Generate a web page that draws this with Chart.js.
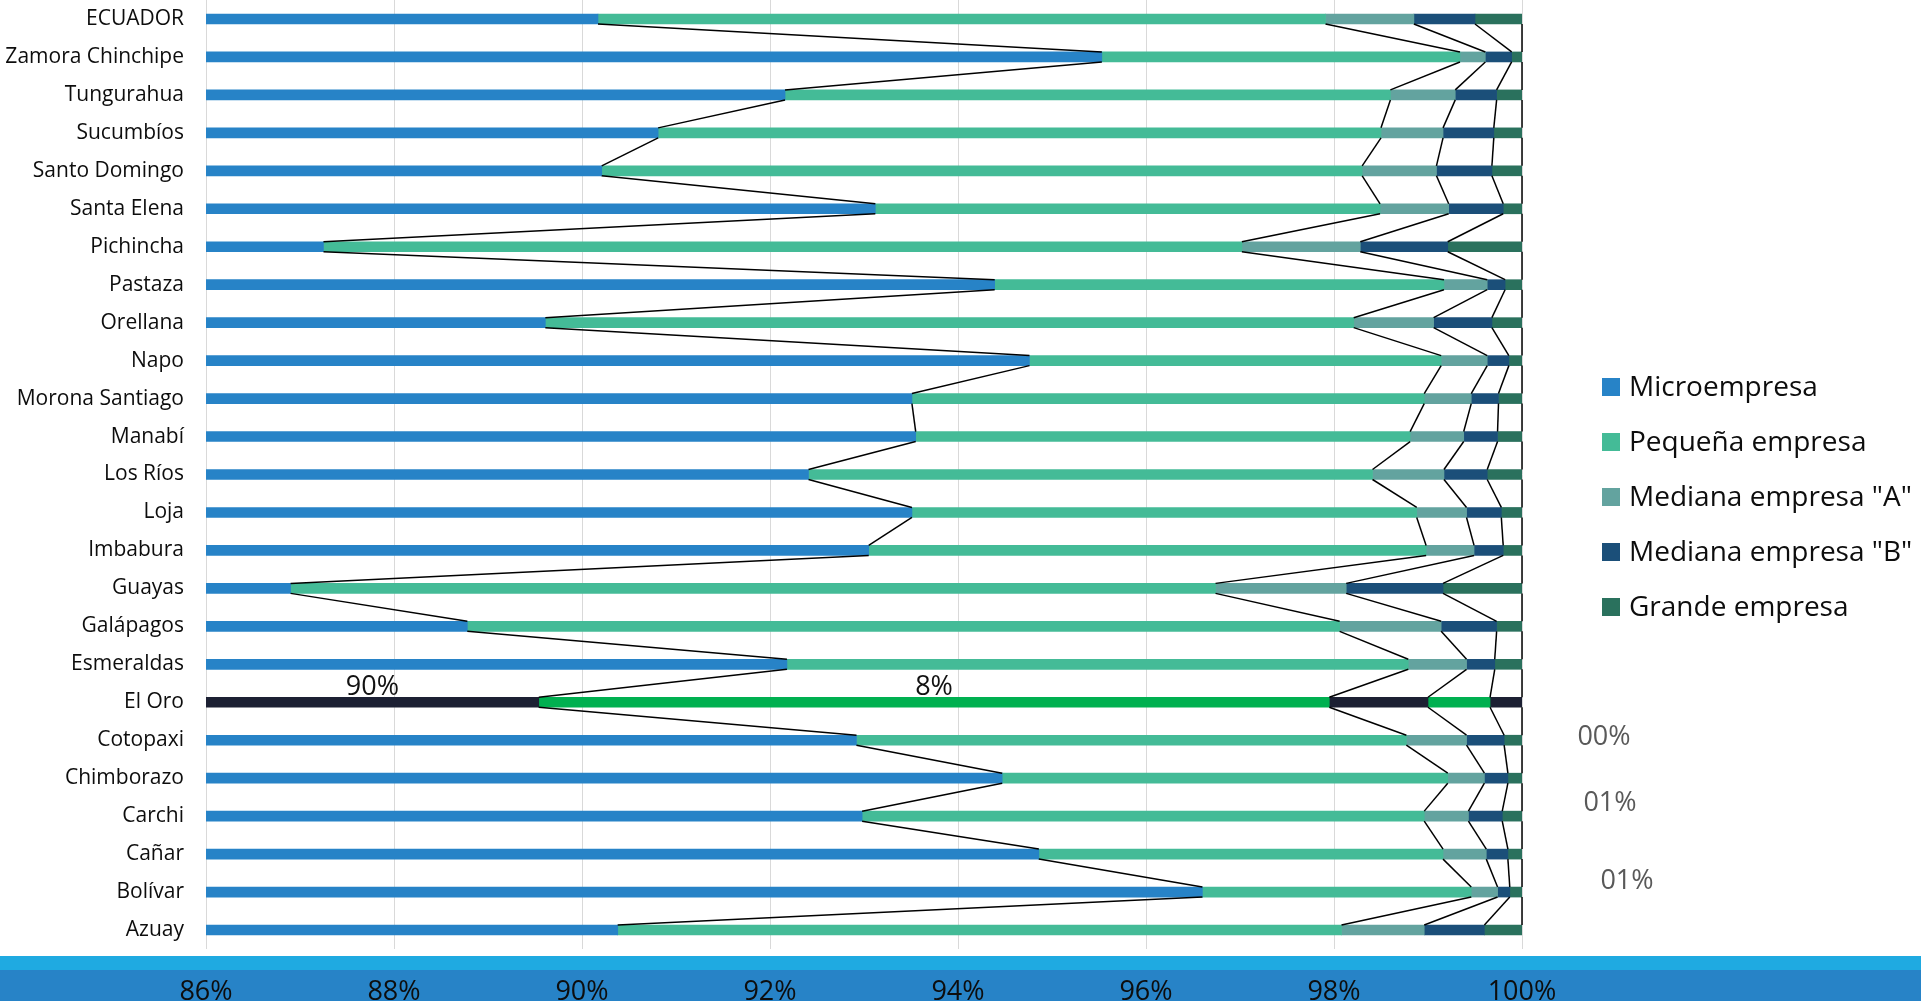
<!DOCTYPE html>
<html>
<head>
<meta charset="utf-8">
<script src="https://cdn.jsdelivr.net/npm/chart.js@4"></script>
<style>
  html, body { margin: 0; padding: 0; background: #fff; overflow: hidden; }
  #wrap { position: relative; width: 1921px; height: 1001px; }
</style>
</head>
<body>
<div id="wrap"><canvas id="c"></canvas></div>
<script>
// Provinces, top to bottom
const categories = ['ECUADOR', 'Zamora Chinchipe', 'Tungurahua', 'Sucumbíos', 'Santo Domingo', 'Santa Elena',
  'Pichincha', 'Pastaza', 'Orellana', 'Napo', 'Morona Santiago', 'Manabí', 'Los Ríos', 'Loja', 'Imbabura',
  'Guayas', 'Galápagos', 'Esmeraldas', 'El Oro', 'Cotopaxi', 'Chimborazo', 'Carchi', 'Cañar', 'Bolívar', 'Azuay'];

// Share of firms by size (%)
const microempresa = [90.17, 95.53, 92.16, 90.81, 90.21, 93.12, 87.25, 94.39, 89.61, 94.76, 93.51, 93.55, 92.41,
  93.51, 93.05, 86.90, 88.78, 92.18, 89.54, 92.92, 94.47, 92.98, 94.86, 96.60, 90.38];
const pequenaEmpresa = [7.74, 3.81, 6.44, 7.69, 8.09, 5.37, 9.77, 4.78, 8.60, 4.38, 5.45, 5.26, 6.00,
  5.37, 5.93, 9.84, 9.28, 6.61, 8.41, 5.85, 4.74, 5.98, 4.30, 2.86, 7.70];
const medianaA = [0.94, 0.27, 0.69, 0.66, 0.79, 0.73, 1.26, 0.46, 0.85, 0.49, 0.50, 0.57, 0.76,
  0.53, 0.51, 1.39, 1.08, 0.62, 1.05, 0.64, 0.39, 0.47, 0.46, 0.28, 0.88];
const medianaB = [0.65, 0.28, 0.44, 0.54, 0.59, 0.58, 0.93, 0.19, 0.62, 0.23, 0.29, 0.36, 0.46,
  0.37, 0.31, 1.03, 0.59, 0.30, 0.66, 0.40, 0.25, 0.36, 0.23, 0.13, 0.64];
const grandeEmpresa = [0.50, 0.11, 0.27, 0.30, 0.32, 0.20, 0.79, 0.18, 0.32, 0.14, 0.25, 0.26, 0.37,
  0.22, 0.20, 0.84, 0.27, 0.29, 0.34, 0.19, 0.15, 0.21, 0.15, 0.13, 0.40];

const seriesNames = ['Microempresa', 'Pequeña empresa', 'Mediana empresa "A"', 'Mediana empresa "B"', 'Grande empresa'];
const seriesValues = [microempresa, pequenaEmpresa, medianaA, medianaB, grandeEmpresa];

const axisMin = 86, axisMax = 100, axisStep = 2;
const highlighted = 'El Oro';

const baseColors = ['#2783c7', '#44bb97', '#63a39f', '#1b4f79', '#2a715d'];
const highlightColors = ['#1c2033', '#00b050', '#1c2033', '#00b050', '#1c2033'];
const hlIndex = categories.indexOf(highlighted);

const FONT = '"Open Sans", "Liberation Sans", sans-serif';

// Blue band behind the percentage axis
const axisBand = {
  id: 'axisBand',
  beforeDraw(chart) {
    const { ctx, chartArea, width, height } = chart;
    ctx.save();
    ctx.fillStyle = '#1faae1';
    ctx.fillRect(0, chartArea.bottom + 7, width, 14);
    ctx.fillStyle = '#2783c7';
    ctx.fillRect(0, chartArea.bottom + 21, width, height - chartArea.bottom - 21);
    ctx.restore();
  }
};

// Series lines joining segment ends of neighbouring bars
const seriesLines = {
  id: 'seriesLines',
  afterDatasetsDraw(chart) {
    const { ctx, chartArea } = chart;
    ctx.save();
    ctx.beginPath();
    ctx.rect(chartArea.left, chartArea.top, chartArea.right - chartArea.left + 2, chartArea.bottom - chartArea.top);
    ctx.clip();
    ctx.strokeStyle = '#000';
    ctx.lineWidth = 1.5;
    chart.data.datasets.forEach((ds, d) => {
      const bars = chart.getDatasetMeta(d).data;
      for (let i = 0; i < bars.length - 1; i++) {
        const a = bars[i], b = bars[i + 1];
        ctx.beginPath();
        ctx.moveTo(a.x, a.y + a.height / 2);
        ctx.lineTo(b.x, b.y - b.height / 2);
        ctx.stroke();
      }
    });
    ctx.restore();
  }
};

// Value labels for the highlighted province
const valueLabels = {
  id: 'valueLabels',
  afterDraw(chart) {
    const { ctx, chartArea } = chart;
    if (hlIndex < 0) return;
    ctx.save();
    ctx.font = '27px ' + FONT;
    ctx.textAlign = 'center';
    ctx.textBaseline = 'middle';
    // the two main segments: label above the bar
    [0, 1].forEach(d => {
      const bar = chart.getDatasetMeta(d).data[hlIndex];
      const v = chart.data.datasets[d].data[hlIndex];
      const x0 = Math.max(Math.min(bar.base, bar.x), chartArea.left);
      const x1 = Math.max(bar.base, bar.x);
      ctx.fillStyle = '#111';
      ctx.fillText(Math.round(v) + '%', (x0 + x1) / 2, bar.y - 15);
    });
    // the small segments: labels pushed out to the right
    const bar = chart.getDatasetMeta(0).data[hlIndex];
    const offsets = { 4: [82, 35], 3: [88, 101], 2: [105, 179] };
    ctx.fillStyle = '#595959';
    [4, 3, 2].forEach(d => {
      const v = chart.data.datasets[d].data[hlIndex];
      const txt = String(Math.round(v)).padStart(2, '0') + '%';
      ctx.fillText(txt, chartArea.right + offsets[d][0], bar.y + offsets[d][1]);
    });
    ctx.restore();
  }
};

// Legend on the right
const sideLegend = {
  id: 'sideLegend',
  afterDraw(chart) {
    const { ctx, chartArea } = chart;
    ctx.save();
    ctx.font = '28px ' + FONT;
    ctx.textBaseline = 'middle';
    ctx.textAlign = 'left';
    const x = chartArea.right + 80;
    chart.data.datasets.forEach((ds, d) => {
      const y = chartArea.top + 387 + d * 55;
      ctx.fillStyle = baseColors[d];
      ctx.fillRect(x, y - 9, 18, 18);
      ctx.fillStyle = '#0d0d0d';
      ctx.fillText(ds.label, x + 27, y + 1);
    });
    ctx.restore();
  }
};

const datasets = seriesNames.map((name, d) => ({
  label: name,
  data: seriesValues[d],
  backgroundColor: ctx => (ctx.dataIndex === hlIndex ? highlightColors[d] : baseColors[d]),
  borderWidth: 0,
  barThickness: 10
}));

new Chart(document.getElementById('c'), {
  type: 'bar',
  data: { labels: categories, datasets },
  plugins: [axisBand, seriesLines, valueLabels, sideLegend],
  options: {
    indexAxis: 'y',
    responsive: true,
    maintainAspectRatio: false,
    animation: false,
    devicePixelRatio: 1,
    layout: { padding: { top: 0, right: 399, bottom: 0, left: 0 } },
    plugins: { legend: { display: false }, tooltip: { enabled: false } },
    scales: {
      x: {
        stacked: true,
        min: axisMin,
        max: axisMax,
        position: 'bottom',
        border: { display: false },
        grid: { color: '#d9d9d9', lineWidth: 1, drawTicks: false },
        ticks: {
          stepSize: axisStep,
          padding: 27,
          color: '#0d0d0d',
          font: { family: FONT, size: 27 },
          callback: v => v + '%'
        },
        afterFit: s => { s.height = 52; s.paddingLeft = 0; s.paddingRight = 0; }
      },
      y: {
        stacked: true,
        border: { display: false },
        grid: { display: false, drawTicks: false },
        ticks: {
          autoSkip: false,
          padding: 22,
          color: '#0d0d0d',
          font: { family: FONT, size: 21 }
        },
        afterFit: s => { s.width = 206; s.paddingTop = 0; s.paddingBottom = 0; }
      }
    }
  }
});
</script>
</body>
</html>
